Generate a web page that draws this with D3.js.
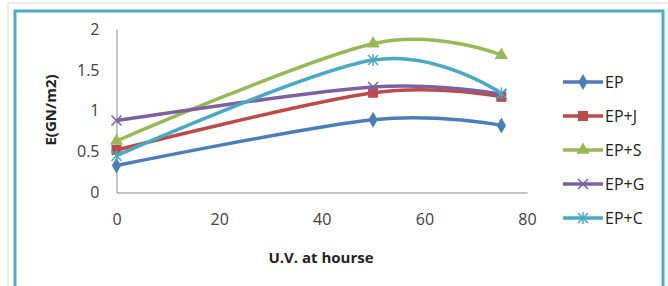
<!DOCTYPE html>
<html>
<head>
<meta charset="utf-8">
<script src="https://cdn.jsdelivr.net/npm/d3@7"></script>
<style>
  body { margin: 0; background: #fff; }
  text { font-family: "Open Sans", sans-serif; }
</style>
</head>
<body>
<div id="chart"></div>
<script>
const svgWidth = 668;
const svgHeight = 286;

// data
const hours = [0, 50, 75];
const seriesNames = ["EP", "EP+J", "EP+S", "EP+G", "EP+C"];
const ep  = [0.33, 0.89, 0.82];
const epJ = [0.52, 1.22, 1.17];
const epS = [0.63, 1.82, 1.68];
const epG = [0.88, 1.29, 1.20];
const epC = [0.45, 1.62, 1.21];
const xTicks = [0, 20, 40, 60, 80];
const yTicks = [0, 0.5, 1, 1.5, 2];

const colors = ["#4a7ebb", "#be4b48", "#98b954", "#7d60a0", "#46aac5"];
const markers = ["diamond", "square", "triangle", "cross", "star"];
const allSeries = [ep, epJ, epS, epG, epC];

const svg = d3.select("#chart").append("svg")
  .attr("width", svgWidth)
  .attr("height", svgHeight);

// outer light frame + blue chart border
svg.append("rect")
  .attr("x", 8).attr("y", 3).attr("width", 670).attr("height", 300)
  .attr("fill", "none").attr("stroke", "#d9d9d9");
svg.append("rect")
  .attr("x", 15).attr("y", 11).attr("width", 648).attr("height", 290)
  .attr("fill", "#fff").attr("stroke", "#4bacc6").attr("stroke-width", 3);

const x = d3.scaleLinear().domain([0, 80]).range([116.5, 527]);
const y = d3.scaleLinear().domain([0, 2]).range([192.5, 29]);

// axes
const xAxis = svg.append("g")
  .attr("transform", `translate(0, ${y(0)})`)
  .call(d3.axisBottom(x).tickValues(xTicks).tickSize(0).tickPadding(21));
const yAxis = svg.append("g")
  .attr("transform", `translate(${x(0)}, 0)`)
  .call(d3.axisLeft(y).tickValues(yTicks).tickSize(0).tickPadding(17).tickFormat(d3.format("")));

[xAxis, yAxis].forEach(a => {
  a.select(".domain").attr("stroke", "#898989").attr("stroke-width", 1);
  a.selectAll("text").attr("fill", "#404040").style("font-size", "16px")
    .style("font-family", "'Open Sans', sans-serif");
});

// axis titles
svg.append("text")
  .attr("x", 321).attr("y", 263)
  .attr("text-anchor", "middle")
  .style("font-size", "15px").style("font-weight", "bold").attr("fill", "#222")
  .text("U.V. at hourse");

svg.append("text")
  .attr("transform", "rotate(-90)")
  .attr("x", -110).attr("y", 56)
  .attr("text-anchor", "middle")
  .style("font-size", "15px").style("font-weight", "bold").attr("fill", "#222")
  .text("E(GN/m2)");

const line = d3.line()
  .x((d, i) => x(hours[i]))
  .y(d => y(d))
  .curve(d3.curveCardinal.tension(0));

function drawMarker(g, type, color, cx, cy) {
  if (type === "diamond") {
    g.append("path").attr("d", d3.symbol(d3.symbolDiamond, 75)())
      .attr("transform", `translate(${cx},${cy})`).attr("fill", color);
  } else if (type === "square") {
    g.append("rect").attr("x", cx - 5).attr("y", cy - 5).attr("width", 10).attr("height", 10)
      .attr("fill", color);
  } else if (type === "triangle") {
    g.append("path").attr("d", d3.symbol(d3.symbolTriangle, 75)())
      .attr("transform", `translate(${cx},${cy})`).attr("fill", color);
  } else if (type === "cross") {
    g.append("path").attr("d", `M${cx-5},${cy-5}L${cx+5},${cy+5}M${cx-5},${cy+5}L${cx+5},${cy-5}`)
      .attr("stroke", color).attr("stroke-width", 1.5);
  } else {
    g.append("path").attr("d", `M${cx-5},${cy-5}L${cx+5},${cy+5}M${cx-5},${cy+5}L${cx+5},${cy-5}M${cx},${cy-6}L${cx},${cy+6}`)
      .attr("stroke", color).attr("stroke-width", 1.5);
  }
}

const plot = svg.append("g");
allSeries.forEach((vals, s) => {
  plot.append("path")
    .attr("d", line(vals))
    .attr("fill", "none")
    .attr("stroke", colors[s])
    .attr("stroke-width", 3.5);
  vals.forEach((v, i) => drawMarker(plot, markers[s], colors[s], x(hours[i]), y(v)));
});

// legend
const legend = svg.append("g");
seriesNames.forEach((name, s) => {
  const ly = 82 + s * 34;
  legend.append("line")
    .attr("x1", 563).attr("x2", 603).attr("y1", ly).attr("y2", ly)
    .attr("stroke", colors[s]).attr("stroke-width", 3.5);
  drawMarker(legend, markers[s], colors[s], 583, ly);
  legend.append("text")
    .attr("x", 605).attr("y", ly + 6)
    .style("font-size", "16px").attr("fill", "#222")
    .text(name);
});
</script>
</body>
</html>
